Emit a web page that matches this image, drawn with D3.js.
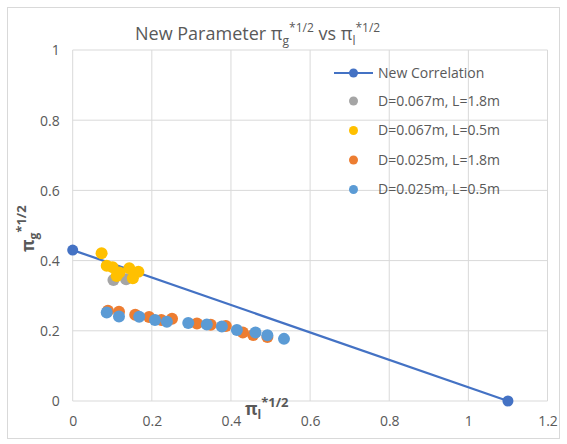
<!DOCTYPE html>
<html>
<head>
<meta charset="utf-8">
<script src="https://cdn.jsdelivr.net/npm/d3@7"></script>
<style>
  body { margin: 0; background: #fff; }
  text { font-family: "Open Sans", "Noto Sans", sans-serif; fill: #595959; }
</style>
</head>
<body>
<div id="chart"></div>
<script>
// chart data
var xTicks = [0, 0.2, 0.4, 0.6, 0.8, 1, 1.2];
var yTicks = [0, 0.2, 0.4, 0.6, 0.8, 1];

var corrX = [0, 1.1];
var corrY = [0.43, 0];

var grayX = [0.103, 0.135];
var grayY = [0.345, 0.347];

var yellowX = [0.073, 0.086, 0.101, 0.118, 0.143, 0.166, 0.111, 0.152];
var yellowY = [0.421, 0.385, 0.381, 0.366, 0.378, 0.368, 0.356, 0.350];

var orangeX = [0.089, 0.117, 0.158, 0.193, 0.224, 0.251, 0.314, 0.349, 0.387, 0.430, 0.456, 0.492];
var orangeY = [0.257, 0.254, 0.246, 0.239, 0.231, 0.234, 0.221, 0.217, 0.214, 0.195, 0.188, 0.182];

var blueX = [0.086, 0.117, 0.168, 0.208, 0.238, 0.292, 0.339, 0.377, 0.415, 0.462, 0.492, 0.534];
var blueY = [0.252, 0.241, 0.240, 0.231, 0.226, 0.222, 0.218, 0.212, 0.202, 0.195, 0.187, 0.177];

var seriesNames = ['D=0.067m, L=1.8m', 'D=0.067m, L=0.5m', 'D=0.025m, L=1.8m', 'D=0.025m, L=0.5m'];
var seriesColors = ['#A5A5A5', '#FFC000', '#ED7D31', '#5B9BD5'];
var corrColor = '#4472C4';

var svgWidth = 567, svgHeight = 444;
var margin = { top: 50, left: 72.7, right: 20, bottom: 43 };
var plotRight = 547.5, plotBottom = 401;

var svg = d3.select('#chart').append('svg')
  .attr('width', svgWidth)
  .attr('height', svgHeight);

// outer chart border
svg.append('rect')
  .attr('x', 7.5).attr('y', 7.5)
  .attr('width', 552).attr('height', 431)
  .attr('fill', '#fff')
  .attr('stroke', '#d9d9d9');

var x = d3.scaleLinear().domain([0, 1.2]).range([margin.left, plotRight]);
var y = d3.scaleLinear().domain([0, 1]).range([plotBottom, margin.top]);

// gridlines
var grid = svg.append('g').attr('class', 'grid');
grid.selectAll('.vgrid')
  .data(xTicks).enter().append('line')
  .attr('x1', function(d){ return x(d); }).attr('x2', function(d){ return x(d); })
  .attr('y1', y(0)).attr('y2', y(1))
  .attr('stroke', '#d9d9d9').attr('stroke-width', 1);
grid.selectAll('.hgrid')
  .data(yTicks).enter().append('line')
  .attr('y1', function(d){ return y(d); }).attr('y2', function(d){ return y(d); })
  .attr('x1', x(0)).attr('x2', x(1.2))
  .attr('stroke', '#d9d9d9').attr('stroke-width', 1);

// axes (labels only)
var xAxis = svg.append('g')
  .attr('transform', 'translate(0,' + (plotBottom + 12) + ')')
  .call(d3.axisBottom(x).tickValues(xTicks).tickSize(0).tickFormat(d3.format('')));
var yAxis = svg.append('g')
  .attr('transform', 'translate(' + (margin.left - 10) + ',0)')
  .call(d3.axisLeft(y).tickValues(yTicks).tickSize(0).tickFormat(d3.format('')));
[xAxis, yAxis].forEach(function(a){
  a.select('.domain').remove();
  a.selectAll('text')
    .style('font-family', '"Open Sans", "Noto Sans", sans-serif')
    .style('font-size', '14px')
    .style('fill', '#595959');
});
yAxis.selectAll('text').attr('dy', '0.35em');

// correlation line
var line = d3.line()
  .x(function(d){ return x(d[0]); })
  .y(function(d){ return y(d[1]); });
var corrData = d3.zip(corrX, corrY);
svg.append('path')
  .datum(corrData)
  .attr('d', line)
  .attr('fill', 'none')
  .attr('stroke', corrColor)
  .attr('stroke-width', 2.25);
svg.selectAll('.corr-pt')
  .data(corrData).enter().append('circle')
  .attr('cx', function(d){ return x(d[0]); })
  .attr('cy', function(d){ return y(d[1]); })
  .attr('r', 5.5)
  .attr('fill', corrColor);

// scatter series
var seriesData = [
  d3.zip(grayX, grayY),
  d3.zip(yellowX, yellowY),
  d3.zip(orangeX, orangeY),
  d3.zip(blueX, blueY)
];
seriesData.forEach(function(pts, i){
  svg.append('g')
    .selectAll('circle')
    .data(pts).enter().append('circle')
    .attr('cx', function(d){ return x(d[0]); })
    .attr('cy', function(d){ return y(d[1]); })
    .attr('r', 6)
    .attr('fill', seriesColors[i]);
});

// legend
var legend = svg.append('g').attr('transform', 'translate(334,73)');
legend.append('line')
  .attr('x1', 0).attr('x2', 39).attr('y1', 0).attr('y2', 0)
  .attr('stroke', corrColor).attr('stroke-width', 2);
legend.append('circle').attr('cx', 19.5).attr('cy', 0).attr('r', 4.5).attr('fill', corrColor);
legend.append('text').attr('x', 44).attr('y', 0).attr('dy', '0.35em')
  .style('font-size', '14px').text('New Correlation');
seriesNames.forEach(function(name, i){
  var ly = 28 + i * 29.5;
  legend.append('circle').attr('cx', 19.5).attr('cy', ly).attr('r', 4.5).attr('fill', seriesColors[i]);
  legend.append('text').attr('x', 44).attr('y', ly).attr('dy', '0.35em')
    .style('font-size', '14px').text(name);
});

// title
var title = svg.append('text')
  .attr('x', 135).attr('y', 40)
  .style('font-size', '18px');
title.append('tspan').text('New Parameter π');
title.append('tspan').attr('dy', 5).style('font-size', '12px').text('g');
title.append('tspan').attr('dy', -13).style('font-size', '12px').text('*1/2');
title.append('tspan').attr('dy', 8).text(' vs π');
title.append('tspan').attr('dy', 5).style('font-size', '12px').text('l');
title.append('tspan').attr('dy', -13).style('font-size', '12px').text('*1/2');

// x axis title
var xt = svg.append('text')
  .attr('x', 245).attr('y', 415)
  .style('font-size', '17px').style('font-weight', 'bold');
xt.append('tspan').text('π');
xt.append('tspan').attr('dy', 4).style('font-size', '12px').text('l');
xt.append('tspan').attr('dy', -12).style('font-size', '13px').text('*1/2');

// y axis title
var yt = svg.append('text')
  .attr('transform', 'translate(34,252) rotate(-90)')
  .style('font-size', '17px').style('font-weight', 'bold');
yt.append('tspan').text('π');
yt.append('tspan').attr('dy', 4).style('font-size', '12px').text('g');
yt.append('tspan').attr('dy', -12).style('font-size', '13px').text('*1/2');
</script>
</body>
</html>
